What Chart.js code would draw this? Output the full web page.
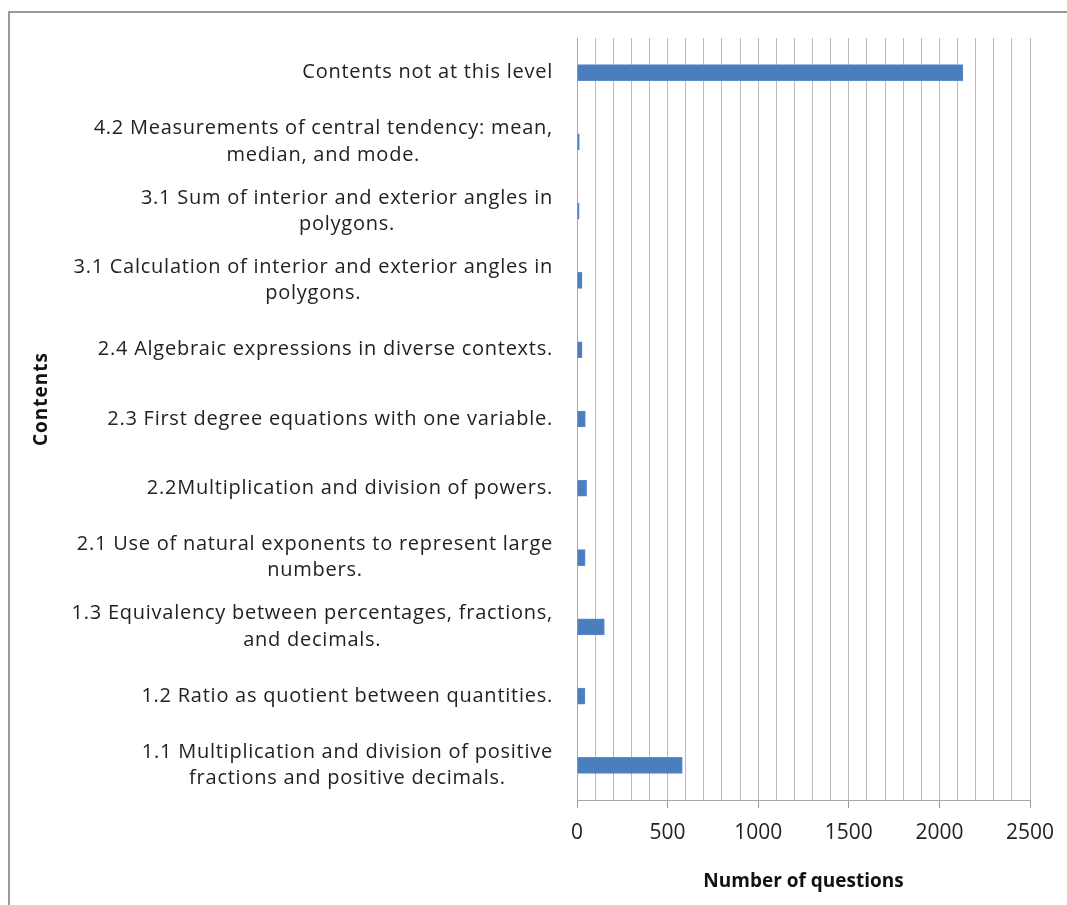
<!DOCTYPE html>
<html>
<head>
<meta charset="utf-8">
<script src="https://cdn.jsdelivr.net/npm/chart.js@4"></script>
<style>
  html, body { margin: 0; padding: 0; background: #fff; }
  #wrap { position: relative; width: 1067px; height: 905px; }
  #frame { position: absolute; left: 8px; top: 11px; right: 0; bottom: 0;
           border-left: 2px solid #9a9a9a; border-top: 2px solid #9a9a9a; }
  canvas { position: absolute; left: 0; top: 0; }
</style>
</head>
<body>
<div id="wrap">
  <div id="frame"></div>
  <canvas id="myChart" width="1067" height="905"></canvas>
</div>
<script>
// categories, top to bottom as in the picture
const categories = [
  ['Contents not at this level'],
  ['4.2 Measurements of central tendency: mean,', 'median, and mode.'],
  ['3.1 Sum of interior and exterior angles in', 'polygons.'],
  ['3.1 Calculation of interior and exterior angles in', 'polygons.'],
  ['2.4 Algebraic expressions in diverse contexts.'],
  ['2.3 First degree equations with one variable.'],
  ['2.2Multiplication and division of powers.'],
  ['2.1 Use of natural exponents to represent large', 'numbers.'],
  ['1.3 Equivalency between percentages, fractions,', 'and decimals.'],
  ['1.2 Ratio as quotient between quantities.'],
  ['1.1 Multiplication and division of positive', 'fractions and positive decimals.']
];
const questions = [2130, 13, 12, 28, 28, 46, 53, 45, 151, 44, 581];
const xTickLabels = [0, 500, 1000, 1500, 2000, 2500];

const fam = '"Open Sans", sans-serif';

// category labels: each block right-aligned to the axis, its lines centred in the block
const catLabels = {
  id: 'catLabels',
  afterDraw(chart) {
    const y = chart.scales.y;
    const c = chart.ctx;
    c.save();
    c.font = '20px ' + fam;
    c.letterSpacing = '0.75px';
    c.fillStyle = '#222';
    c.textAlign = 'center';
    c.textBaseline = 'middle';
    const right = chart.chartArea.left - 24;
    const lh = 26.5;
    categories.forEach((lines, i) => {
      const w = Math.max(...lines.map(l => c.measureText(l).width));
      const cx = right - w / 2;
      const cy = y.getPixelForValue(i);
      lines.forEach((l, k) => {
        c.fillText(l, cx, cy + (k - (lines.length - 1) / 2) * lh);
      });
    });
    // y axis title
    c.letterSpacing = '1px';
    c.font = 'bold 19px ' + fam;
    c.fillStyle = '#111';
    c.translate(42, 399);
    c.rotate(-Math.PI / 2);
    c.fillText('Contents', 0, 0);
    c.restore();
  }
};

const ctx = document.getElementById('myChart');
ctx.getContext('2d').letterSpacing = '1px';
const config = {
  type: 'bar',
  data: {
    labels: categories,
    datasets: [{
      label: 'Number of questions',
      data: questions,
      backgroundColor: '#4a7ebf',
      borderColor: '#5a8ccb',
      borderWidth: 1,
      barThickness: 16
    }]
  },
  options: {
    indexAxis: 'y',
    responsive: false,
    animation: false,
    layout: { padding: { left: 27, top: 38, right: 37, bottom: 8 } },
    plugins: { legend: { display: false }, tooltip: { enabled: false } },
    scales: {
      x: {
        min: 0,
        max: 2500,
        afterFit: s => { s.height = 97; },
        ticks: {
          stepSize: 100,
          autoSkip: false,
          maxRotation: 0,
          padding: 12,
          color: '#222',
          font: { family: fam, size: 21 },
          callback: v => xTickLabels.includes(v) ? String(v) : ''
        },
        grid: {
          color: '#b8b8b8',
          tickLength: 8,
          tickColor: c => xTickLabels.includes(c.tick && c.tick.value) ? '#999' : 'transparent'
        },
        border: { color: '#a8a8a8' },
        title: {
          display: true,
          text: 'Number of questions',
          color: '#111',
          font: { family: fam, size: 19, weight: 'bold' }
        }
      },
      y: {
        afterFit: s => { s.width = 577 - 27; },
        ticks: { display: false },
        grid: { display: false },
        border: { color: '#a8a8a8' }
      }
    }
  },
  plugins: [catLabels]
};
new Chart(ctx, config);
</script>
</body>
</html>
